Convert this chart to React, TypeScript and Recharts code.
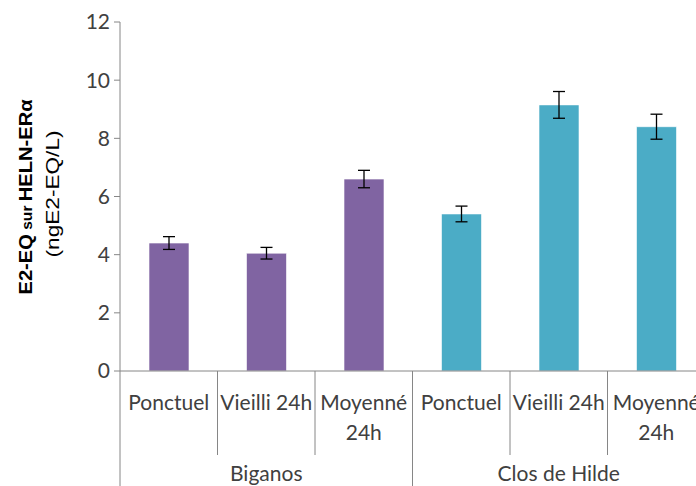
import { BarChart, Bar, XAxis, YAxis, Cell, ErrorBar } from "recharts";

const categories = ["Ponctuel", "Vieilli 24h", "Moyenné\n24h", "Ponctuel", "Vieilli 24h", "Moyenné\n24h"];
const groups = ["Biganos", "Biganos", "Biganos", "Clos de Hilde", "Clos de Hilde", "Clos de Hilde"];
const values = [4.4, 4.05, 6.6, 5.4, 9.15, 8.4];
const errors = [0.22, 0.2, 0.3, 0.27, 0.46, 0.43];
const yTicks = [0, 2, 4, 6, 8, 10, 12];

const groupColors: Record<string, string> = {
  Biganos: "#8064A2",
  "Clos de Hilde": "#4BACC6",
};

const data = categories.map((c, i) => ({
  key: `${groups[i]}-${i}`,
  label: c,
  group: groups[i],
  value: values[i],
  err: errors[i],
}));

const CHART_W = 720;
const CHART_H = 486;
const MARGIN_L = 70;
const Y_W = 50;
const MARGIN_R = 15;
const BAND = (CHART_W - MARGIN_L - Y_W - MARGIN_R) / categories.length;
const AXIS_COLOR = "#868686";
const TEXT_COLOR = "#404040";
const FONT = "Lato, 'Open Sans', sans-serif";
const LABEL_SIZE = 21;

function CategoryTick(props: any) {
  const { x, y, index } = props;
  const row = data[index];
  if (!row) return null;
  const lines = row.label.split("\n");
  const groupStart = index === 0 || data[index - 1].group !== row.group;
  const isLast = index === data.length - 1;
  const groupSize = data.filter((d) => d.group === row.group).length;
  const left = x - BAND / 2;
  return (
    <g>
      <line x1={left} y1={y} x2={left} y2={y + (groupStart ? 115 : 84)} stroke={AXIS_COLOR} />
      {isLast && (
        <line x1={x + BAND / 2} y1={y} x2={x + BAND / 2} y2={y + 115} stroke={AXIS_COLOR} />
      )}
      {lines.map((l: string, i: number) => (
        <text
          key={i}
          x={x}
          y={y + 39 + i * 30}
          textAnchor="middle"
          fontSize={LABEL_SIZE}
          fontFamily={FONT}
          fill={TEXT_COLOR}
        >
          {l}
        </text>
      ))}
      {groupStart && (
        <text
          x={left + (BAND * groupSize) / 2}
          y={y + 110}
          textAnchor="middle"
          fontSize={LABEL_SIZE}
          fontFamily={FONT}
          fill={TEXT_COLOR}
        >
          {row.group}
        </text>
      )}
    </g>
  );
}

function YTitle() {
  return (
    <g>
      <text
        transform="translate(32, 197) rotate(-90)"
        textAnchor="middle"
        fontFamily="'Liberation Sans', Arial, sans-serif"
        fontWeight="bold"
        fontSize={18}
        textLength={195}
        lengthAdjust="spacingAndGlyphs"
        fill="#000"
      >
        E2-EQ<tspan fontSize={14}> sur </tspan>HELN-ERα
      </text>
      <text
        transform="translate(59, 194) rotate(-90)"
        textAnchor="middle"
        fontFamily="'Liberation Sans', Arial, sans-serif"
        fontSize={18}
        textLength={127}
        lengthAdjust="spacingAndGlyphs"
        fill="#000"
      >
        (ngE2-EQ/L)
      </text>
    </g>
  );
}

export default function App() {
  return (
    <div
      style={{
        position: "absolute",
        left: 0,
        top: 0,
        width: 696,
        height: 486,
        overflow: "hidden",
        background: "#fff",
      }}
    >
      <BarChart
        width={CHART_W}
        height={CHART_H}
        data={data}
        margin={{ top: 22, right: MARGIN_R, left: MARGIN_L, bottom: 0 }}
        barSize={40}
      >
        <XAxis
          dataKey="key"
          height={115}
          interval={0}
          tickLine={false}
          tickSize={0}
          tickMargin={0}
          stroke={AXIS_COLOR}
          tick={<CategoryTick />}
        />
        <YAxis
          width={Y_W}
          domain={[0, 12]}
          ticks={yTicks}
          tickSize={6}
          tickMargin={4}
          stroke={AXIS_COLOR}
          tick={{ fontSize: LABEL_SIZE, fontFamily: FONT, fill: TEXT_COLOR }}
          label={{ content: () => <YTitle /> }}
        />
        <Bar dataKey="value" isAnimationActive={false} stroke="#ffffff" strokeOpacity={0.6}>
          {data.map((d, i) => (
            <Cell key={`cell-${i}`} fill={groupColors[d.group]} />
          ))}
          <ErrorBar dataKey="err" width={6} stroke="#000" strokeWidth={1.3} isAnimationActive={false} />
        </Bar>
      </BarChart>
    </div>
  );
}
